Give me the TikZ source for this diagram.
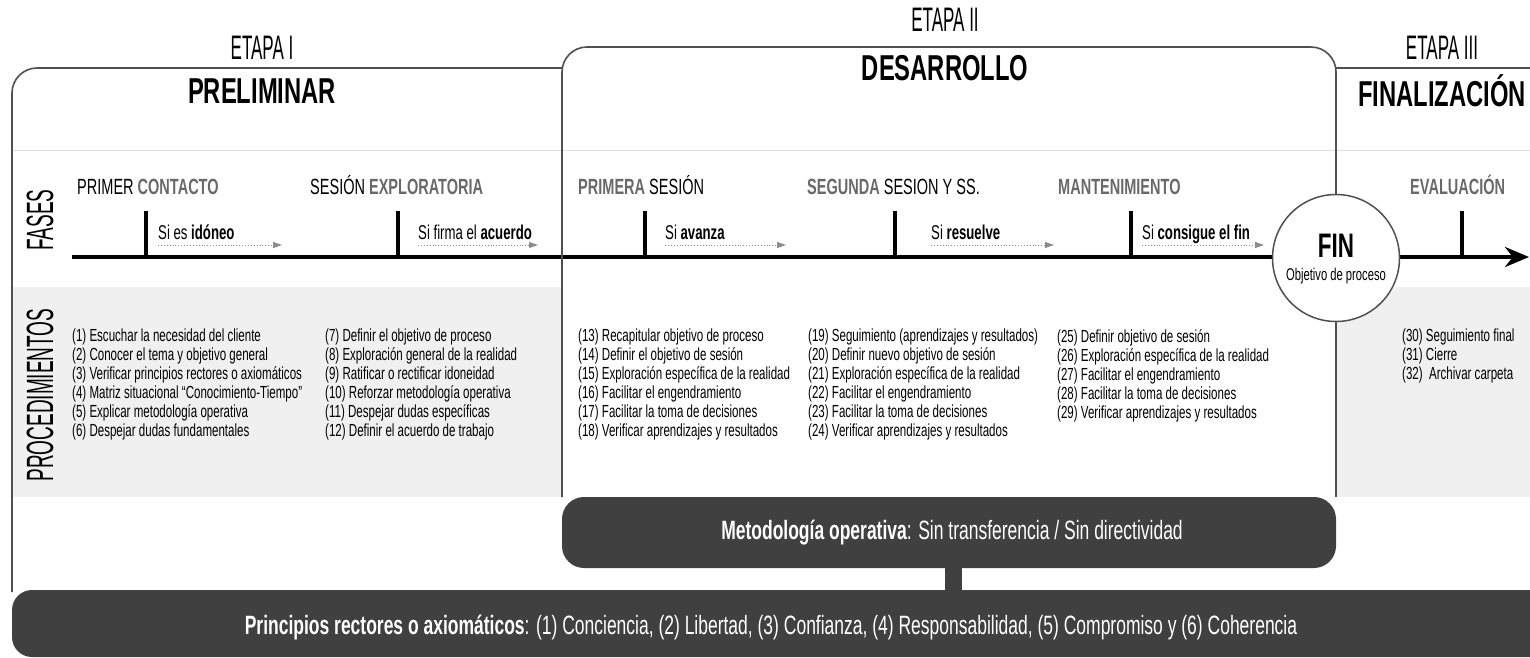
\documentclass[tikz,border=0pt]{standalone}
\usepackage{fontspec}
\setmainfont{Liberation Sans}[FakeStretch=0.66]
\newfontfamily\narrowfont{Liberation Sans}[FakeStretch=0.5]
\usetikzlibrary{arrows.meta,positioning}
\definecolor{frgray}{RGB}{80,80,80}
\definecolor{dkgray}{RGB}{64,64,64}
\definecolor{bandgray}{RGB}{240,240,240}
\definecolor{lngray}{RGB}{222,222,222}
\definecolor{phgray}{RGB}{105,105,105}
\definecolor{argray}{RGB}{140,140,140}
\newcommand{\phb}[1]{\textbf{\textcolor{phgray}{#1}}}

\begin{document}
\begin{tikzpicture}[x=1pt, y=-1pt,
  frame/.style={draw=frgray, line width=1.6pt},
  stage/.style={font=\narrowfont\fontsize{34}{36}\selectfont, inner sep=0pt},
  stagename/.style={font=\fontsize{36}{38}\selectfont\bfseries, inner sep=0pt},
  side/.style={font=\narrowfont\fontsize{38}{40}\selectfont, rotate=90, inner sep=0pt},
  phase/.style={font=\fontsize{22}{24}\selectfont, anchor=base west, inner sep=0pt},
  cond/.style={font=\fontsize{20}{22}\selectfont, anchor=base west, inner sep=0pt},
  proc/.style={font=\fontsize{17.5}{19}\selectfont, anchor=north west, align=left, inner sep=0pt},
  tick/.style={line width=3.5pt},
  cdarr/.style={argray, dotted, line width=0.9pt, -{Triangle[length=9pt, width=6pt]}},
  darkbox/.style={fill=dkgray, rounded corners=22pt, inner sep=0pt},
  bartext/.style={text=white, font=\fontsize{26.5}{28}\selectfont, inner sep=0pt}]
\clip (0,0) rectangle (1530,657);
% Bands
\fill[bandgray] (12,287) rectangle (1530,497);
\fill[white] (562,47) rectangle (1336,497);
\draw[lngray, line width=1pt] (12,150) -- (1530,150);
% Outer frame
\draw[frame, rounded corners=25pt] (12,592) -- (12,68) -- (562,68);
\draw[frame] (1336,68) -- (1530,68);
% Stages
\node[stage] (et1) at (262,48) {ETAPA I};
\node[stagename] (st1) at (262,91) {PRELIMINAR};
\node[stage] (et2) at (945,20) {ETAPA II};
\node[stagename] (st2) at (945,68) {DESARROLLO};
\node[stage] (et3) at (1442,48) {ETAPA III};
\node[stagename] (st3) at (1442,91) {FINALIZACIÓN};
% Side labels
\node[side] (fases) at (40,220) {FASES};
\node[side] (procs) at (40,395) {PROCEDIMIENTOS};
% Timeline
\coordinate (tl0) at (72,257);
\coordinate (tl1) at (1529,257);
\draw[line width=4pt, -{Stealth[length=24pt, width=20pt]}] (tl0) -- (tl1);
\foreach \tx in {146,398,645,895,1131,1462}
  \draw[tick] (\tx,211) -- (\tx,257);
% Fin
\node[circle, draw=frgray, line width=1.5pt, fill=white, minimum size=127pt, inner sep=0pt] (fin) at (1336,258) {};
\node[font=\fontsize{34}{36}\selectfont\bfseries, inner sep=0pt] (fint) at (1336,246) {FIN};
\node[font=\fontsize{17}{19}\selectfont, inner sep=0pt] (fino) at (1336,276) {Objetivo de proceso};
% Desarrollo frame
\draw[frame, rounded corners=25pt] (562,497) -- (562,47) -- (1336,47) -- (fin.north);
\draw[frame] (fin.south) -- (1336,497);
% Phases
\node[phase] (ph1) at (77,194) {PRIMER \phb{CONTACTO}};
\node[phase] (ph2) at (310,194) {SESIÓN \phb{EXPLORATORIA}};
\node[phase] (ph3) at (578,194) {\phb{PRIMERA} SESIÓN};
\node[phase] (ph4) at (807,194) {\phb{SEGUNDA} SESION Y SS.};
\node[phase] (ph5) at (1058,194) {\phb{MANTENIMIENTO}};
\node[phase] (ph6) at (1410,194) {\phb{EVALUACIÓN}};
% Conditions
\node[cond] (c1) at (158,239) {Si es \textbf{idóneo}};
\node[cond] (c2) at (418,239) {Si firma el \textbf{acuerdo}};
\node[cond] (c3) at (665,239) {Si \textbf{avanza}};
\node[cond] (c4) at (931,239) {Si \textbf{resuelve}};
\node[cond] (c5) at (1142,239) {Si \textbf{consigue el fin}};
\coordinate (c1s) at (158,245); \coordinate (c1e) at (282,245);
\coordinate (c2s) at (418,245); \coordinate (c2e) at (538,245);
\coordinate (c3s) at (665,245); \coordinate (c3e) at (786,245);
\coordinate (c4s) at (931,245); \coordinate (c4e) at (1054,245);
\coordinate (c5s) at (1142,245); \coordinate (c5e) at (1264,245);
\draw[cdarr] (c1s) -- (c1e);
\draw[cdarr] (c2s) -- (c2e);
\draw[cdarr] (c3s) -- (c3e);
\draw[cdarr] (c4s) -- (c4e);
\draw[cdarr] (c5s) -- (c5e);
% Procedures
\node[proc] (p1) at (72,329) {(1) Escuchar la necesidad del cliente\\(2) Conocer el tema y objetivo general\\(3) Verificar principios rectores o axiomáticos\\(4) Matriz situacional “Conocimiento-Tiempo”\\(5) Explicar metodología operativa\\(6) Despejar dudas fundamentales};
\node[proc] (p2) at (325,329) {(7) Definir el objetivo de proceso\\(8) Exploración general de la realidad\\(9) Ratificar o rectificar idoneidad\\(10) Reforzar metodología operativa\\(11) Despejar dudas específicas\\(12) Definir el acuerdo de trabajo};
\node[proc] (p3) at (578,329) {(13) Recapitular objetivo de proceso\\(14) Definir el objetivo de sesión\\(15) Exploración específica de la realidad\\(16) Facilitar el engendramiento\\(17) Facilitar la toma de decisiones\\(18) Verificar aprendizajes y resultados};
\node[proc] (p4) at (808,329) {(19) Seguimiento (aprendizajes y resultados)\\(20) Definir nuevo objetivo de sesión\\(21) Exploración específica de la realidad\\(22) Facilitar el engendramiento\\(23) Facilitar la toma de decisiones\\(24) Verificar aprendizajes y resultados};
\node[proc] (p5) at (1057,329) {(25) Definir objetivo de sesión\\(26) Exploración específica de la realidad\\(27) Facilitar el engendramiento\\(28) Facilitar la toma de decisiones\\(29) Verificar aprendizajes y resultados};
\node[proc] (p6) at (1402,329) {(30) Seguimiento final\\(31) Cierre\\(32)\ \ Archivar carpeta};
% Bottom bars
\node[darkbox, minimum width=774pt, minimum height=71pt] (metod) at (949,532.5) {};
\node[bartext] (metodt) at (952,533) {\textbf{Metodología operativa}: Sin transferencia / Sin directividad};
\node[darkbox, rounded corners=20pt, minimum width=1568pt, minimum height=67pt] (princ) at (796,623.5) {};
\node[bartext] (princt) at (771,628) {\textbf{Principios rectores o axiomáticos}: (1) Conciencia, (2) Libertad, (3) Confianza, (4) Responsabilidad, (5) Compromiso y (6) Coherencia};
\draw[dkgray, line width=17pt] (metod.south -| 953,0) -- (princ.north -| 953,0);
\end{tikzpicture}
\end{document}
